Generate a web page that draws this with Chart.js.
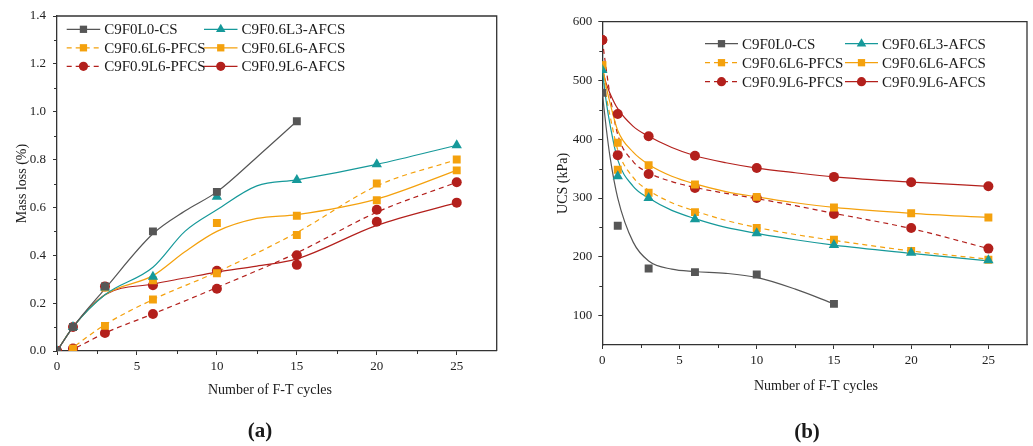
<!DOCTYPE html>
<html>
<head>
<meta charset="utf-8">
<script src="https://cdn.jsdelivr.net/npm/chart.js@4/dist/chart.umd.min.js"></script>
<style>
  html, body { margin: 0; padding: 0; background: #fff; }
  #wrap { position: relative; width: 1033px; height: 446px; }
  .panel { position: absolute; top: 0; height: 446px; }
</style>
</head>
<body>
<div id="wrap">
  <div class="panel" style="left:0;width:520px"><canvas id="massChart"></canvas></div>
  <div class="panel" style="left:520px;width:513px"><canvas id="ucsChart"></canvas></div>
</div>
<script>
// F-T cycle counts at which specimens were tested
const cycles = [0, 1, 3, 6, 10, 15, 20, 25];

const seriesNames = ['C9F0L0-CS', 'C9F0.6L3-AFCS', 'C9F0.6L6-PFCS', 'C9F0.6L6-AFCS', 'C9F0.9L6-PFCS', 'C9F0.9L6-AFCS'];
const seriesColors = ['#565656', '#16999a', '#f4a10d', '#f4a10d', '#b3201c', '#b3201c'];
const seriesDashed = [false, false, true, false, true, false];
const seriesMarkers = ['rect', 'triangle', 'rect', 'rect', 'circle', 'circle'];
const markerRadius = { rect: 5.6, triangle: 6, circle: 5 };

// mass loss (%) measured
const massCS  = [0, 0.10, 0.27, 0.50, 0.665, 0.96];
const massL3A = [0, 0.10, 0.265, 0.31, 0.645, 0.715, 0.78, 0.86];
const massL6P = [0, 0.01, 0.105, 0.215, 0.325, 0.485, 0.70, 0.80];
const massL6A = [0, 0.10, 0.265, 0.295, 0.535, 0.565, 0.63, 0.755];
const massF9P = [0, 0.01, 0.075, 0.155, 0.26, 0.40, 0.59, 0.705];
const massF9A = [0, 0.10, 0.27, 0.275, 0.335, 0.36, 0.54, 0.62];

// smoothed mass loss trend lines
const massFitX   = [0, 1, 3, 6, 8, 10, 12.5, 15, 20, 25];
const massFitCS  = [0, 0.10, 0.26, 0.49, 0.585, 0.665, 0.81, 0.96];
const massFitL3A = [0, 0.10, 0.235, 0.35, 0.50, 0.59, 0.69, 0.715, 0.78, 0.86];
const massFitL6A = [0, 0.10, 0.235, 0.315, 0.415, 0.50, 0.554, 0.57, 0.635, 0.755];
const massFitF9A = [0, 0.10, 0.235, 0.28, 0.305, 0.33, 0.355, 0.385, 0.525, 0.62];
const massTrendX   = [0.7, 1, 3, 6, 10, 15, 20, 25];
const massTrendL6P = [0, 0.015, 0.11, 0.215, 0.33, 0.495, 0.69, 0.80];
const massTrendF9P = [0, 0.008, 0.075, 0.155, 0.265, 0.41, 0.58, 0.705];

// unconfined compressive strength (kPa) measured
const ucsCS  = [479, 253, 180, 174, 170, 120];
const ucsL3A = [518, 337, 300, 264, 240, 220, 207, 194];
const ucsL6P = [526, 348, 309, 276, 249, 229, 210, 195];
const ucsL6A = [526, 394, 356, 323, 302, 284, 274, 267];
const ucsF9P = [569, 373, 341, 317, 300, 273, 249, 214];
const ucsF9A = [569, 443, 405, 372, 351, 336, 327, 320];

// fitted UCS decay curves
const ucsFitX   = [0, 0.25, 0.5, 1, 2, 3, 4.5, 6, 8, 10, 12.5, 15, 20, 25];
const ucsFitCS  = [480, 420, 370, 300, 225, 193, 179, 175, 172, 165, 145, 120];
const ucsFitL3A = [518, 465, 425, 365, 320, 300, 279, 265, 250, 240, 229, 220, 206, 193];
const ucsFitL6P = [526, 475, 440, 382, 335, 313, 292, 278, 262, 250, 238, 228, 210, 196];
const ucsFitL6A = [526, 490, 462, 415, 378, 357, 337, 324, 311, 302, 292, 284, 274, 267];
const ucsFitF9P = [569, 520, 475, 408, 362, 343, 328, 318, 308, 299, 287, 274, 248, 214];
const ucsFitF9A = [520, 495, 478, 452, 422, 405, 386, 372, 360, 351, 343, 336, 327, 320];

const xTickValues = [0, 5, 10, 15, 20, 25];
const massTickValues = [0, 0.2, 0.4, 0.6, 0.8, 1.0, 1.2, 1.4];
const ucsTickValues = [100, 200, 300, 400, 500, 600];

const SERIF = '"Liberation Serif", "Times New Roman", serif';
const AXIS_COLOR = '#333';

const pts = (xs, ys) => ys.map((y, i) => ({ x: xs[i], y: y }));

function buildDatasets(measured, fits) {
  const sets = [];
  measured.forEach((vals, i) => {
    sets.push({
      label: seriesNames[i],
      data: pts(fits[i][0], fits[i][1]),
      showLine: true,
      borderColor: seriesColors[i],
      borderWidth: 1.2,
      borderDash: seriesDashed[i] ? [5, 4] : [],
      cubicInterpolationMode: 'monotone',
      pointRadius: 0,
      pointHoverRadius: 0,
      order: 2,
      isFit: true
    });
    sets.push({
      label: seriesNames[i],
      data: pts(cycles, vals),
      showLine: false,
      pointStyle: seriesMarkers[i],
      pointRadius: markerRadius[seriesMarkers[i]],
      backgroundColor: seriesColors[i],
      pointBorderWidth: 0,
      order: 1
    });
  });
  return sets;
}

// frame, minor ticks, in-plot legend and titles
const panelDecor = {
  id: 'panelDecor',
  afterDraw(chart, args, opts) {
    const ctx = chart.ctx;
    const a = chart.chartArea;
    const xs = chart.scales.x, ys = chart.scales.y;
    ctx.save();

    // top and right edges of the box
    ctx.strokeStyle = AXIS_COLOR;
    ctx.lineWidth = 1.3;
    ctx.beginPath();
    ctx.moveTo(a.left, a.top); ctx.lineTo(a.right, a.top); ctx.lineTo(a.right, a.bottom);
    ctx.stroke();

    // minor ticks
    ctx.lineWidth = 1;
    ctx.beginPath();
    for (let v = opts.minorX; v < xs.max; v += opts.minorX * 2) {
      const px = Math.round(xs.getPixelForValue(v)) + 0.5;
      ctx.moveTo(px, a.bottom); ctx.lineTo(px, a.bottom + 3);
    }
    for (let v = opts.minorYStart; v < ys.max; v += opts.minorY * 2) {
      const py = Math.round(ys.getPixelForValue(v)) + 0.5;
      ctx.moveTo(a.left, py); ctx.lineTo(a.left - 3, py);
    }
    ctx.stroke();

    // legend, two columns
    const lg = opts.legend;
    ctx.font = '15px ' + SERIF;
    ctx.textBaseline = 'middle';
    ctx.textAlign = 'left';
    const fits = chart.data.datasets.filter(d => d.isFit);
    fits.forEach((d, i) => {
      const col = i % 2, row = Math.floor(i / 2);
      const x0 = col ? lg.col2 : lg.x;
      const y = lg.y + row * lg.rowH;
      ctx.strokeStyle = d.borderColor;
      ctx.lineWidth = 1.2;
      ctx.setLineDash(d.borderDash);
      ctx.beginPath();
      ctx.moveTo(x0, y); ctx.lineTo(x0 + lg.lineLen, y);
      ctx.stroke();
      ctx.setLineDash([]);
      const mk = seriesMarkers[i];
      ctx.fillStyle = d.borderColor;
      Chart.helpers.drawPoint(ctx, { pointStyle: mk, radius: markerRadius[mk] * 0.92, rotation: 0, borderWidth: 0 },
        x0 + lg.lineLen / 2, y);
      ctx.fillStyle = '#1a1a1a';
      ctx.fillText(d.label, x0 + lg.lineLen + lg.gap, y + 1);
    });

    // axis titles and panel tag
    ctx.fillStyle = '#1a1a1a';
    ctx.textAlign = 'center';
    ctx.font = '14px ' + SERIF;
    ctx.fillText(opts.xTitle.text, opts.xTitle.x, opts.xTitle.y);
    ctx.save();
    ctx.translate(opts.yTitle.x, (a.top + a.bottom) / 2);
    ctx.rotate(-Math.PI / 2);
    ctx.fillText(opts.yTitle.text, 0, 0);
    ctx.restore();
    ctx.font = 'bold 21px ' + SERIF;
    ctx.fillText(opts.tag.text, opts.tag.x, opts.tag.y);

    ctx.restore();
  }
};

function scaleOptions(yMin, yMax, yTicks, yWidth, yPad, yFmt) {
  const grid = { drawOnChartArea: false, drawTicks: true, tickLength: 4, color: AXIS_COLOR, lineWidth: 1 };
  const border = { display: true, color: AXIS_COLOR, width: 1.3 };
  const font = { family: SERIF, size: 13 };
  return {
    x: {
      type: 'linear', min: 0, max: 27.5,
      afterBuildTicks: s => { s.ticks = xTickValues.map(v => ({ value: v })); },
      afterFit: s => { s.height = 20; },
      grid: grid, border: border,
      ticks: { font: font, color: '#222', padding: 4, maxRotation: 0, autoSkip: false }
    },
    y: {
      type: 'linear', min: yMin, max: yMax,
      afterBuildTicks: s => { s.ticks = yTicks.map(v => ({ value: v })); },
      afterFit: s => { s.width = yWidth; },
      grid: grid, border: border,
      ticks: { font: font, color: '#222', padding: yPad, autoSkip: false, callback: yFmt }
    }
  };
}

function makeChart(id, datasets, scales, padding, decor) {
  return new Chart(document.getElementById(id), {
    type: 'scatter',
    data: { datasets: datasets },
    options: {
      responsive: true,
      maintainAspectRatio: false,
      animation: false,
      devicePixelRatio: 1,
      layout: { padding: padding },
      scales: scales,
      plugins: { legend: { display: false }, tooltip: { enabled: false }, panelDecor: decor }
    },
    plugins: [panelDecor]
  });
}

makeChart('massChart',
  buildDatasets(
    [massCS, massL3A, massL6P, massL6A, massF9P, massF9A],
    [[massFitX, massFitCS], [massFitX, massFitL3A], [massTrendX, massTrendL6P],
     [massFitX, massFitL6A], [massTrendX, massTrendF9P], [massFitX, massFitF9A]]),
  scaleOptions(0, 1.4, massTickValues, 57, 7, v => v.toFixed(1)),
  { left: 0, top: 16, right: 23.3, bottom: 75 },
  {
    minorX: 2.5, minorY: 0.1, minorYStart: 0.1,
    legend: { x: 66.7, y: 29.3, col2: 204, rowH: 18.5, lineLen: 33.5, gap: 4 },
    xTitle: { text: 'Number of F-T cycles', x: 270, y: 390 },
    yTitle: { text: 'Mass loss (%)', x: 22 },
    tag: { text: '(a)', x: 260, y: 432 }
  });

makeChart('ucsChart',
  buildDatasets(
    [ucsCS, ucsL3A, ucsL6P, ucsL6A, ucsF9P, ucsF9A],
    [[ucsFitX, ucsFitCS], [ucsFitX, ucsFitL3A], [ucsFitX, ucsFitL6P],
     [ucsFitX, ucsFitL6A], [ucsFitX, ucsFitF9P], [ucsFitX, ucsFitF9A]]),
  scaleOptions(50, 600, ucsTickValues, 82.3, 6, v => String(v)),
  { left: 0, top: 21.7, right: 1.3, bottom: 81 },
  {
    minorX: 2.5, minorY: 50, minorYStart: 150,
    legend: { x: 185, y: 43.7, col2: 325, rowH: 19, lineLen: 33, gap: 4 },
    xTitle: { text: 'Number of F-T cycles', x: 296, y: 386.7 },
    yTitle: { text: 'UCS (kPa)', x: 43 },
    tag: { text: '(b)', x: 287, y: 433 }
  });
</script>
</body>
</html>
